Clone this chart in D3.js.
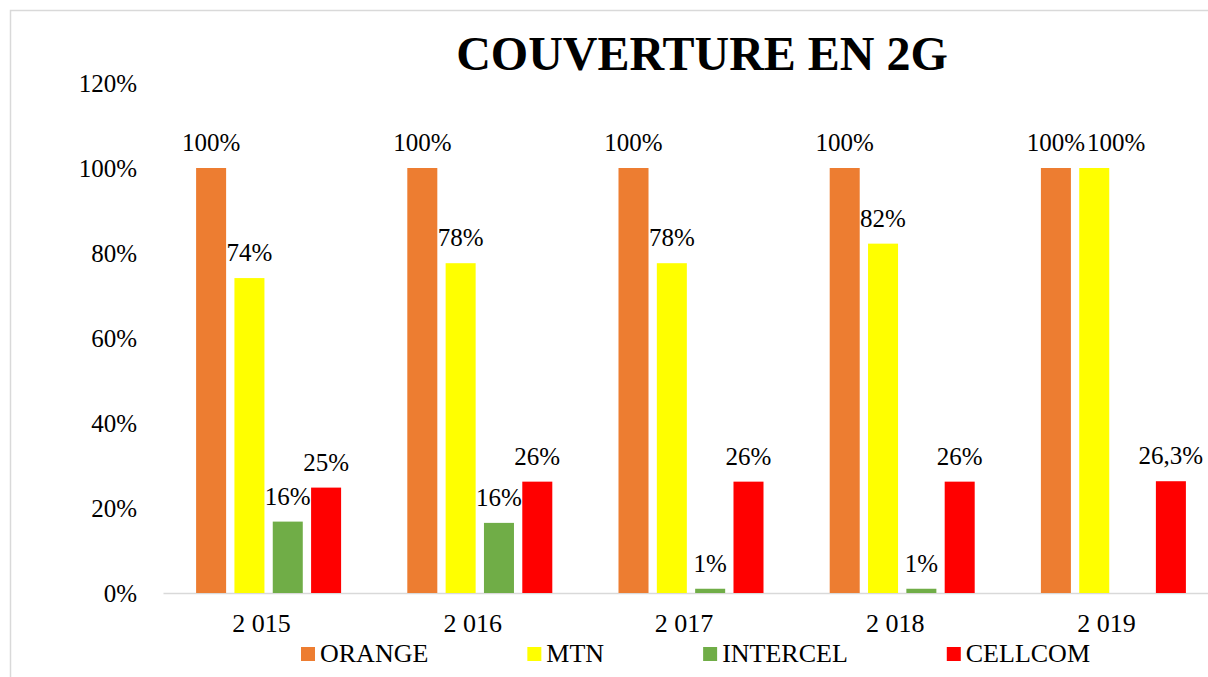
<!DOCTYPE html>
<html>
<head>
<meta charset="utf-8">
<script src="https://cdn.jsdelivr.net/npm/d3@7"></script>
<style>
  html, body { margin: 0; padding: 0; background: #fff; overflow: hidden; }
  text { font-family: "Liberation Serif", "Times New Roman", serif; fill: #000; }
</style>
</head>
<body>
<div id="chart"></div>
<script>
// Données
const years = ["2 015", "2 016", "2 017", "2 018", "2 019"];
const operators = ["ORANGE", "MTN", "INTERCEL", "CELLCOM"];
const orangeValues = [1.00, 1.00, 1.00, 1.00, 1.00];
const mtnValues = [0.741, 0.776, 0.776, 0.822, 1.00];
const intercelValues = [0.168, 0.165, 0.01, 0.01, null];
const cellcomValues = [0.248, 0.262, 0.262, 0.262, 0.263];
const orangeLabels = ["100%", "100%", "100%", "100%", "100%"];
const mtnLabels = ["74%", "78%", "78%", "82%", "100%"];
const intercelLabels = ["16%", "16%", "1%", "1%", null];
const cellcomLabels = ["25%", "26%", "26%", "26%", "26,3%"];
const yTicks = [0, 0.2, 0.4, 0.6, 0.8, 1.0, 1.2];
const colors = ["#ED7D31", "#FFFF00", "#70AD47", "#FF0000"];

const W = 1208, H = 677;
const plot = { left: 163, right: 1219, top: 83, bottom: 593 };

const seriesValues = [orangeValues, mtnValues, intercelValues, cellcomValues];
const seriesLabels = [orangeLabels, mtnLabels, intercelLabels, cellcomLabels];

// table plate : une ligne par barre
const rows = [];
years.forEach((yr, i) => {
    operators.forEach((op, j) => {
        rows.push({ year: yr, op: op, value: seriesValues[j][i], label: seriesLabels[j][i] });
    });
});

const svg = d3.select("#chart").append("svg")
    .attr("width", W)
    .attr("height", H);

// cadre du graphique
svg.append("rect")
    .attr("x", 10.5).attr("y", 10.5)
    .attr("width", 1300).attr("height", 700)
    .attr("fill", "#fff")
    .attr("stroke", "#d9d9d9")
    .attr("stroke-width", 1.5);

// Titre
svg.append("text")
    .attr("x", 702).attr("y", 70)
    .attr("text-anchor", "middle")
    .style("font-size", "48px")
    .style("font-weight", "bold")
    .text("COUVERTURE EN 2G");

// Echelles
const x0 = d3.scaleBand().domain(years).range([plot.left, plot.right]).padding(0);
const bw = x0.bandwidth();
const x1 = d3.scaleBand().domain(operators)
    .range([bw / 2 - 72.5, bw / 2 + 72.5])
    .paddingInner(0.217).paddingOuter(0);
const y = d3.scaleLinear().domain([0, 1.2]).range([plot.bottom, plot.top]);
const color = d3.scaleOrdinal().domain(operators).range(colors);

// Axe Y (étiquettes seulement)
const yAxis = svg.append("g")
    .attr("transform", `translate(${plot.left},0)`)
    .call(d3.axisLeft(y).tickValues(yTicks).tickFormat(d3.format(".0%")).tickSize(0).tickPadding(26));
yAxis.select(".domain").remove();
yAxis.selectAll("text")
    .style("font-size", "25px")
    .style("font-family", "'Liberation Serif', serif")
    .attr("fill", "#000");

// Axe X
const xAxis = svg.append("g")
    .attr("transform", `translate(0,${plot.bottom})`)
    .call(d3.axisBottom(x0).tickSize(0).tickPadding(0));
xAxis.select(".domain")
    .attr("stroke", "#d9d9d9")
    .attr("stroke-width", 1.5);
xAxis.selectAll("text")
    .attr("y", 39)
    .attr("dy", 0)
    .attr("dx", -7)
    .style("font-size", "26px")
    .style("font-family", "'Liberation Serif', serif")
    .attr("fill", "#000");

// Barres
const groups = svg.selectAll("g.year")
    .data(years)
    .join("g")
    .attr("class", "year")
    .attr("transform", d => `translate(${x0(d)},0)`);

groups.selectAll("rect")
    .data(yr => rows.filter(r => r.year === yr && r.value != null))
    .join("rect")
    .attr("x", d => x1(d.op))
    .attr("y", d => y(d.value))
    .attr("width", x1.bandwidth())
    .attr("height", d => y(0) - y(d.value))
    .attr("fill", d => color(d.op));

// Etiquettes de données (décalées si elles se chevauchent à la même hauteur)
groups.each(function (yr) {
    const g = d3.select(this);
    const placed = [];
    rows.filter(r => r.year === yr && r.label != null).forEach(d => {
        const ty = y(d.value) - 17;
        const t = g.append("text")
            .attr("x", x1(d.op) + x1.bandwidth() / 2)
            .attr("y", ty)
            .attr("text-anchor", "middle")
            .style("font-size", "25px")
            .text(d.label);
        const w = t.node().getComputedTextLength();
        let left = x1(d.op) + x1.bandwidth() / 2 - w / 2;
        placed.forEach(p => {
            if (Math.abs(p.y - ty) < 22 && left < p.right + 2) left = p.right + 2;
        });
        t.attr("x", left + w / 2);
        placed.push({ y: ty, right: left + w });
    });
});

// Légende
const legend = svg.append("g").attr("transform", "translate(301,0)");
let lx = 0;
operators.forEach(op => {
    const item = legend.append("g").attr("transform", `translate(${lx},0)`);
    item.append("rect")
        .attr("x", 0).attr("y", 647)
        .attr("width", 14).attr("height", 14)
        .attr("fill", color(op));
    const t = item.append("text")
        .attr("x", 19).attr("y", 662)
        .style("font-size", "26px")
        .text(op);
    lx += 19 + t.node().getComputedTextLength() + 99;
});
</script>
</body>
</html>
